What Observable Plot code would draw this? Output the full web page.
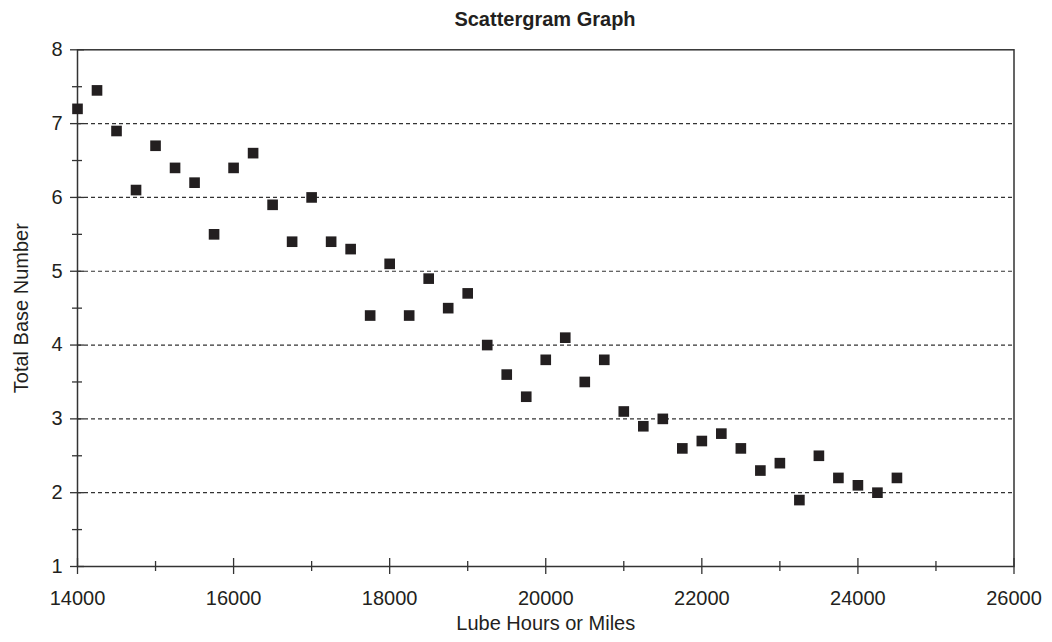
<!DOCTYPE html>
<html>
<head>
<meta charset="utf-8">
<script src="https://cdn.jsdelivr.net/npm/d3@7"></script>
<script src="https://cdn.jsdelivr.net/npm/@observablehq/plot@0.6"></script>
<style>
  html, body { margin: 0; padding: 0; background: #fff; }
  #title {
    height: 36px; line-height: 39px; margin-left: 77px; width: 936px;
    text-align: center; font-family: "Liberation Sans", Arial, sans-serif;
    font-weight: bold; font-size: 20px; color: #231f20;
  }
  #chart svg { display: block; }
</style>
</head>
<body>
<div id="title">Scattergram Graph</div>
<div id="chart"></div>
<script>
const lubeHours = [14000, 14250, 14500, 14750, 15000, 15250, 15500, 15750, 16000, 16250,
  16500, 16750, 17000, 17250, 17500, 17750, 18000, 18250, 18500, 18750,
  19000, 19250, 19500, 19750, 20000, 20250, 20500, 20750, 21000, 21250,
  21500, 21750, 22000, 22250, 22500, 22750, 23000, 23250, 23500, 23750,
  24000, 24250, 24500];
const totalBaseNumber = [7.2, 7.45, 6.9, 6.1, 6.7, 6.4, 6.2, 5.5, 6.4, 6.6,
  5.9, 5.4, 6.0, 5.4, 5.3, 4.4, 5.1, 4.4, 4.9, 4.5,
  4.7, 4.0, 3.6, 3.3, 3.8, 4.1, 3.5, 3.8, 3.1, 2.9,
  3.0, 2.6, 2.7, 2.8, 2.6, 2.3, 2.4, 1.9, 2.5, 2.2,
  2.1, 2.0, 2.2];
const xMajorTicks = [14000, 16000, 18000, 20000, 22000, 24000, 26000];
const xMinorTicks = [15000, 17000, 19000, 21000, 23000, 25000];
const yMajorTicks = [1, 2, 3, 4, 5, 6, 7, 8];
const yMinorTicks = [1.5, 2.5, 3.5, 4.5, 5.5, 6.5, 7.5];
const gridValues = [2, 3, 4, 5, 6, 7];
const xLabel = "Lube Hours or Miles";
const yLabel = "Total Base Number";

const data = lubeHours.map((h, i) => ({hours: h, tbn: totalBaseNumber[i]}));
const ink = "#231f20";

const chart = Plot.plot({
  width: 1052,
  height: 606,
  marginLeft: 77,
  marginRight: 38.5,
  marginTop: 13.3,
  marginBottom: 76,
  style: {fontFamily: "'Liberation Sans', Arial, sans-serif", fontSize: "20px", color: ink, background: "#fff"},
  x: {domain: [14000, 26000]},
  y: {domain: [1, 8]},
  marks: [
    Plot.gridY(gridValues, {stroke: "#333", strokeOpacity: 1, strokeWidth: 1.2, strokeDasharray: "4,3"}),
    Plot.frame({stroke: "#333", strokeWidth: 1.5}),
    // y ticks crossing the axis
    Plot.axisY(yMajorTicks, {tickSize: 14, dx: 7, fill: "none", label: null, stroke: "#333", strokeWidth: 1.3}),
    Plot.axisY(yMinorTicks, {tickSize: 10, dx: 5, fill: "none", label: null, stroke: "#333", strokeWidth: 1.3}),
    Plot.axisY(yMajorTicks, {tickSize: 0, tickPadding: 15, fontSize: 20, fill: ink,
      label: yLabel, labelAnchor: "center", labelArrow: "none", labelOffset: 64, tickFormat: d => String(d)}),
    // x ticks crossing the axis
    Plot.axisX(xMajorTicks, {tickSize: 16, dy: -8, fill: "none", label: null, stroke: "#333", strokeWidth: 1.3}),
    Plot.axisX(xMinorTicks, {tickSize: 10, dy: -5, fill: "none", label: null, stroke: "#333", strokeWidth: 1.3}),
    Plot.axisX(xMajorTicks, {tickSize: 0, tickPadding: 24, fontSize: 20, fill: ink,
      label: xLabel, labelAnchor: "center", labelArrow: "none", labelOffset: 63, tickFormat: d => String(d)}),
    Plot.dot(data, {x: "hours", y: "tbn", symbol: "square", r: 6, fill: ink, stroke: "none"})
  ]
});
document.getElementById("chart").appendChild(chart);
</script>
</body>
</html>
